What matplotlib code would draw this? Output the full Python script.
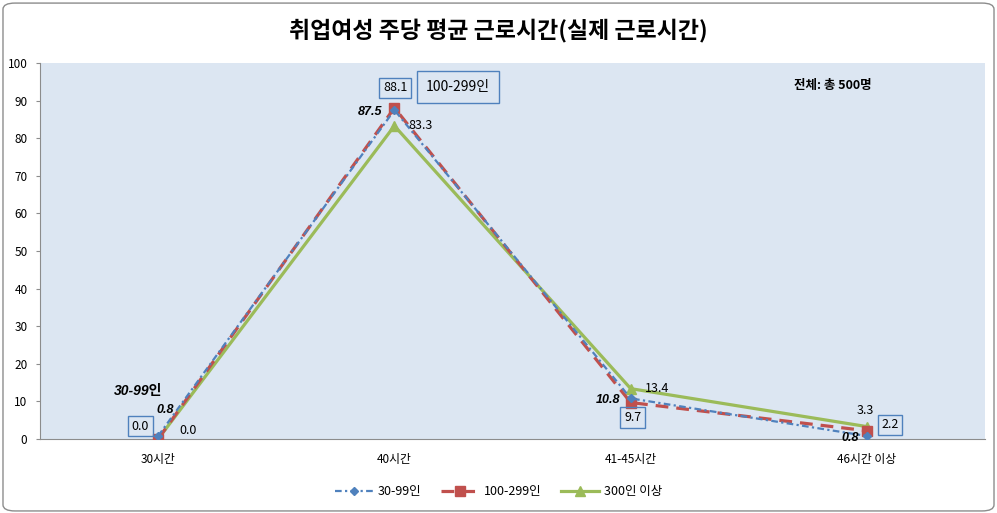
import matplotlib.pyplot as plt
from matplotlib.patches import FancyBboxPatch

plt.rcParams['font.family'] = ['Noto Sans CJK KR', 'DejaVu Sans']

categories = ["30시간", "40시간", "41-45시간", "46시간 이상"]
small = [0.8, 87.5, 10.8, 0.8]
medium = [0.0, 88.1, 9.7, 2.2]
large = [0.0, 83.3, 13.4, 3.3]
series_names = ["30-99인", "100-299인", "300인 이상"]

BLUE = "#4F81BD"
RED = "#C0504D"
GREEN = "#9BBB59"
ITALIC_FONT = ["Liberation Sans", "Noto Sans CJK KR"]

fig = plt.figure(figsize=(9.97, 5.13), dpi=100)
fig.patches.append(FancyBboxPatch((0.003, 0.004), 0.994, 0.99, boxstyle="round,pad=0,rounding_size=0.012",
                                  transform=fig.transFigure, facecolor="white", edgecolor="#8c8c8c",
                                  linewidth=1.0, zorder=-10))
ax = fig.add_axes([0.0401, 0.1442, 0.948, 0.7329])
ax.set_facecolor("#DCE6F2")

x = range(len(categories))
ax.plot(x, large, color=GREEN, lw=2.3, marker="^", ms=7, label=series_names[2], zorder=3)
ax.plot(x, medium, color=RED, lw=2.3, ls=(0, (4, 2.5)), marker="s", ms=6.5, label=series_names[1], zorder=4)
ax.plot(x, small, color=BLUE, lw=1.6, ls=(0, (3, 1.5, 1, 1.5)), marker="D", ms=4, label=series_names[0], zorder=5)

ax.set_xlim(-0.5, 3.5)
ax.set_ylim(0, 100)
ax.set_yticks(range(0, 101, 10))
ax.set_xticks(list(x))
ax.set_xticklabels(categories)
ax.tick_params(axis="both", labelsize=8.5, length=3, color="#8c8c8c")
ax.tick_params(axis="x", length=0, pad=10)
ax.tick_params(axis="y", pad=6)
for s in ["top", "right"]:
    ax.spines[s].set_visible(False)
for s in ["left", "bottom"]:
    ax.spines[s].set_color("#8c8c8c")

# 30-99인 labels (bold italic)
off_small = [(7, 26), (-24, -2), (-23, -2), (-17, -2)]
for i, (v, o) in enumerate(zip(small, off_small)):
    ax.annotate(f"{v:.1f}", (i, v), xytext=o, textcoords="offset pixels", ha="center", va="center",
                fontsize=9, fontweight="bold", fontstyle="italic", family=ITALIC_FONT, zorder=6)

# 100-299인 labels (boxed)
off_med = [(-18, 13), (1, 20), (2, -15), (23, 6)]
for i, (v, o) in enumerate(zip(medium, off_med)):
    ax.annotate(f"{v:.1f}", (i, v), xytext=o, textcoords="offset pixels", ha="center", va="center",
                fontsize=9, zorder=6,
                bbox=dict(boxstyle="square,pad=0.3", facecolor="none", edgecolor=BLUE, lw=1))

# 300인 이상 labels
off_large = [(30, 9), (26, 0), (26, 0), (-2, 16)]
for i, (v, o) in enumerate(zip(large, off_large)):
    ax.annotate(f"{v:.1f}", (i, v), xytext=o, textcoords="offset pixels", ha="center", va="center",
                fontsize=9, zorder=6)

fig.text(138 / 997, 1 - 391 / 513, "30-99인", ha="center", va="center", fontsize=10,
         fontweight="bold", fontstyle="italic", family=ITALIC_FONT)
fig.text(458 / 997, 1 - 87 / 513, "100-299인", ha="center", va="center", fontsize=10,
         bbox=dict(boxstyle="square,pad=0.65", facecolor="none", edgecolor=BLUE, lw=1))
fig.text(833 / 997, 1 - 85 / 513, "전체: 총 500명", ha="center", va="center", fontsize=9,
         fontweight="bold")

fig.suptitle("취업여성 주당 평균 근로시간(실제 근로시간)", x=0.5, y=1 - 31 / 513, va="center",
             fontsize=16.5, fontweight="bold")

h, l = ax.get_legend_handles_labels()
order = [2, 1, 0]
fig.legend([h[k] for k in order], [l[k] for k in order], loc="center", bbox_to_anchor=(0.5, 1 - 492 / 513),
           ncol=3, frameon=False, fontsize=9, handlelength=3, handletextpad=0.4, columnspacing=1.6)

fig.savefig("out.png", dpi=100)
